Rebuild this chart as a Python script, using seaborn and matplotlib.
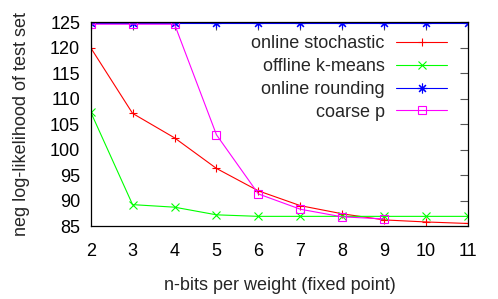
import numpy as np
import pandas as pd
import seaborn as sns
import matplotlib as mpl
mpl.use('Agg')
import matplotlib.pyplot as plt

bits = [2, 3, 4, 5, 6, 7, 8, 9, 10, 11]
online_stochastic = [120.0, 107.1, 102.3, 96.3, 91.9, 89.0, 87.4, 86.2, 85.8, 85.5]
offline_kmeans = [107.4, 89.2, 88.7, 87.2, 86.9, 86.9, 86.9, 86.9, 86.9, 86.9]
online_rounding = [124.9, 124.9, 124.9, 124.9, 124.9, 124.9, 124.9, 124.9, 124.9, 124.9]
coarse_bits = [2, 3, 4, 5, 6, 7, 8, 9]
coarse_p = [124.6, 124.6, 124.6, 102.9, 91.3, 88.3, 86.8, 86.4]

sns.set_theme(style='white')
plt.rcParams['font.family'] = ['Liberation Sans', 'DejaVu Sans']
fs = 13

fig = plt.figure(figsize=(4.98, 2.99), dpi=100)
ax = fig.add_axes([0.182, 0.244, 0.758, 0.682])

series = [
    ('online stochastic', bits, online_stochastic, '#ff0000', '+', 6, 'none'),
    ('offline k-means', bits, offline_kmeans, '#00ff00', 'x', 5.5, 'none'),
    ('online rounding', bits, online_rounding, '#0000ff', (8, 2, 0), 7, 'none'),
    ('coarse p', coarse_bits, coarse_p, '#ff00ff', 's', 6, 'none'),
]
for name, xs, ys, col, mk, ms, fc in series:
    df = pd.DataFrame({'bits': xs, 'nll': ys})
    sns.lineplot(data=df, x='bits', y='nll', ax=ax, color=col, marker=mk,
                 markersize=ms, markerfacecolor=fc, markeredgecolor=col,
                 markeredgewidth=0.8, linewidth=0.8, label=name)

ax.set_xlim(2, 11)
ax.set_ylim(85, 125)
ax.set_xticks(bits)
ax.set_yticks(np.arange(85, 126, 5))
ax.tick_params(direction='in', length=6, width=0.8, color='#555555',
               top=True, right=True, labelsize=fs, labelcolor='black')
ax.tick_params(axis='y', pad=7.5)
ax.tick_params(axis='x', pad=12.5)
for s in ax.spines.values():
    s.set_color('black')
    s.set_linewidth(0.9)

ax.set_xlabel('n-bits per weight (fixed point)', fontsize=fs, labelpad=12)
ax.set_ylabel('neg log-likelihood of test set', fontsize=fs, labelpad=14.5)

leg = ax.legend(loc='upper right', bbox_to_anchor=(0.944, 0.935),
                frameon=False, markerfirst=False, borderaxespad=0,
                borderpad=0, handlelength=2.8, handletextpad=0.65,
                labelspacing=0.32, fontsize=fs)
# right-align the legend text like gnuplot
for col in leg._legend_handle_box.get_children():
    col.align = 'right'

fig.savefig('out.png', dpi=100)
